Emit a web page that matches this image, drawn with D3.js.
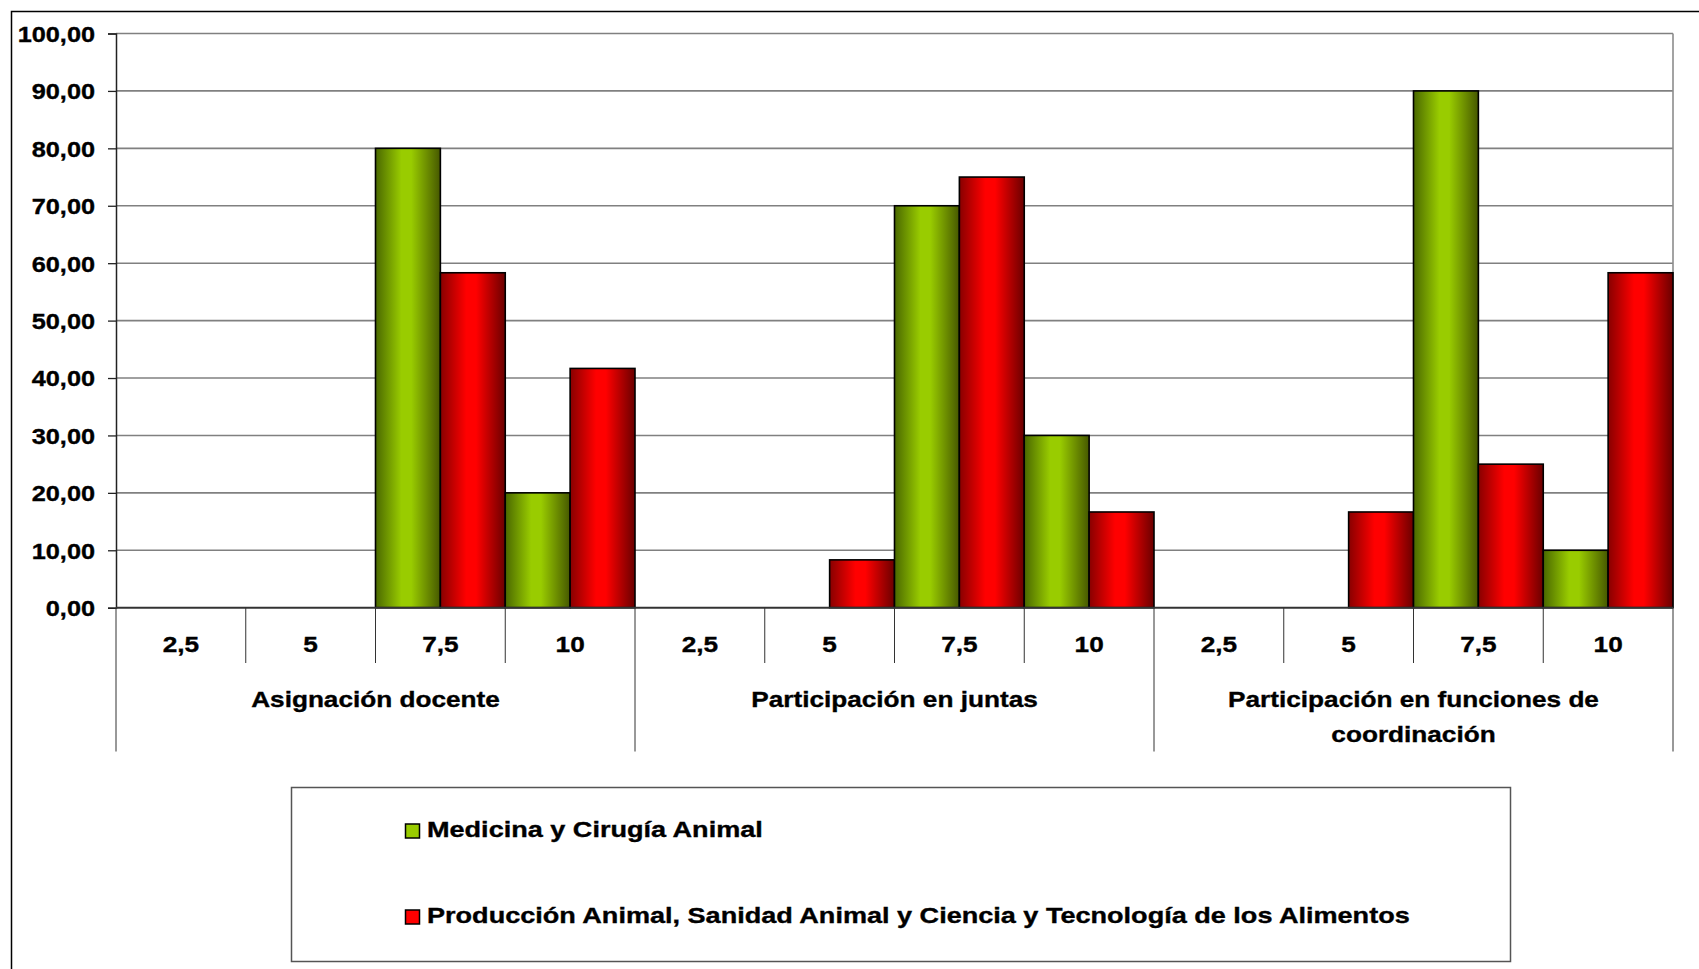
<!DOCTYPE html>
<html>
<head>
<meta charset="utf-8">
<script src="https://cdn.jsdelivr.net/npm/d3@7"></script>
<style>
  html, body { margin: 0; padding: 0; background: #fff; }
  svg { display: block; }
  text { font-family: "Liberation Sans", Arial, sans-serif; font-weight: bold; fill: #000; stroke: #000; stroke-width: 0.35px; }
</style>
</head>
<body>
<svg id="chart" width="1699" height="969"></svg>
<script>
// ---- data ----
const groups = ["Asignación docente", "Participación en juntas", "Participación en funciones de coordinación"];
const groupLabelLines = [["Asignación docente"], ["Participación en juntas"], ["Participación en funciones de", "coordinación"]];
const subcats = ["2,5", "5", "7,5", "10"];
const seriesNames = ["Medicina y Cirugía Animal", "Producción Animal, Sanidad Animal y Ciencia y Tecnología de los Alimentos"];
const medicinaValues = [0, 0, 80, 20, 0, 0, 70, 30, 0, 0, 90, 10];
const produccionValues = [0, 0, 58.33, 41.67, 0, 8.33, 75, 16.67, 0, 16.67, 25, 58.33];
const yTicks = [0, 10, 20, 30, 40, 50, 60, 70, 80, 90, 100];

const svg = d3.select("#chart");
const plotL = 116, plotR = 1673, plotT = 33.5, plotB = 607.7;
const sx = 1.19, syl = 1.15, slg = 1.23; // horizontal text stretch to match reference rendering

// outer frame
svg.append("rect").attr("x", 11.5).attr("y", 11.5).attr("width", 1720).attr("height", 1000)
  .attr("fill", "none").attr("stroke", "#000").attr("stroke-width", 1.5);

const y = d3.scaleLinear().domain([0, 100]).range([plotB, plotT]);
const x0 = d3.scaleBand().domain(groups).range([plotL, plotR]).padding(0);
const x1 = d3.scaleBand().domain(subcats).range([0, x0.bandwidth()]).padding(0);
const x2 = d3.scaleBand().domain(seriesNames).range([0, x1.bandwidth()]).padding(0);

const locale = d3.formatLocale({decimal: ",", thousands: ".", grouping: [3], currency: ["", "€"]});
const fmt = locale.format(".2f");

// gradients
const defs = svg.append("defs");
function grad(id, dark, bright, dark2) {
  const g = defs.append("linearGradient").attr("id", id).attr("x1", 0).attr("x2", 1).attr("y1", 0).attr("y2", 0);
  g.append("stop").attr("offset", "0%").attr("stop-color", dark);
  g.append("stop").attr("offset", "40%").attr("stop-color", bright);
  g.append("stop").attr("offset", "55%").attr("stop-color", bright);
  g.append("stop").attr("offset", "100%").attr("stop-color", dark2);
}
grad("gGreen", "#4a6800", "#99cc00", "#465800");
grad("gRed", "#880000", "#ff0000", "#6a0000");
const fills = ["url(#gGreen)", "url(#gRed)"];
const legendFills = ["#99cc00", "#ff0000"];

// gridlines
svg.append("g").selectAll("line").data(yTicks.filter(d => d > 0)).join("line")
  .attr("x1", plotL).attr("x2", plotR)
  .attr("y1", d => y(d)).attr("y2", d => y(d))
  .attr("stroke", "#808080").attr("stroke-width", 1.6);

// right plot border
svg.append("line").attr("x1", plotR).attr("x2", plotR).attr("y1", plotT).attr("y2", plotB)
  .attr("stroke", "#8c8c8c").attr("stroke-width", 1.6);

// y axis
const yAxis = svg.append("g").attr("transform", `translate(${plotL},0)`)
  .call(d3.axisLeft(y).tickValues(yTicks).tickSize(8).tickPadding(0).tickFormat(fmt));
yAxis.select(".domain").attr("stroke", "#222").attr("stroke-width", 1.5);
yAxis.selectAll(".tick line").attr("stroke", "#222").attr("stroke-width", 1.3);
yAxis.selectAll(".tick text").remove();
yAxis.selectAll(".tick").append("text")
  .attr("transform", `translate(-21,0) scale(${syl},1)`)
  .attr("text-anchor", "end").attr("dy", "0.36em")
  .style("font-size", "22px").style("font-family", "'Liberation Sans', Arial, sans-serif").style("font-weight", "bold")
  .attr("fill", "#000")
  .text(d => fmt(d));

// bars
const barData = [];
groups.forEach((g, gi) => {
  subcats.forEach((s, si) => {
    const idx = gi * subcats.length + si;
    [medicinaValues[idx], produccionValues[idx]].forEach((v, k) => {
      barData.push({g, s, series: seriesNames[k], k, v});
    });
  });
});
svg.append("g").selectAll("rect").data(barData.filter(d => d.v > 0)).join("rect")
  .attr("x", d => x0(d.g) + x1(d.s) + x2(d.series))
  .attr("width", x2.bandwidth())
  .attr("y", d => y(d.v))
  .attr("height", d => y(0) - y(d.v))
  .attr("fill", d => fills[d.k])
  .attr("stroke", "#000").attr("stroke-width", 1.6);

// x axis baseline
svg.append("line").attr("x1", plotL).attr("x2", plotR).attr("y1", plotB).attr("y2", plotB)
  .attr("stroke", "#333").attr("stroke-width", 2);

// sub category separators and labels
const subTickBottom = 663, groupTickBottom = 751.5;
const xg = svg.append("g");
groups.forEach(g => {
  subcats.forEach((s, si) => {
    const xs = x0(g) + x1(s);
    if (si > 0) {
      xg.append("line").attr("x1", xs).attr("x2", xs).attr("y1", plotB).attr("y2", subTickBottom)
        .attr("stroke", "#333").attr("stroke-width", 1);
    }
    xg.append("text")
      .attr("transform", `translate(${xs + x1.bandwidth() / 2},652) scale(${sx},1)`)
      .attr("text-anchor", "middle").style("font-size", "22px").text(s);
  });
});
// group separators
[...groups.map(g => x0(g)), plotR].forEach(xv => {
  xg.append("line").attr("x1", xv).attr("x2", xv).attr("y1", plotB).attr("y2", groupTickBottom)
    .attr("stroke", "#333").attr("stroke-width", 1);
});
// group labels
groups.forEach((g, gi) => {
  groupLabelLines[gi].forEach((line, li) => {
    xg.append("text")
      .attr("transform", `translate(${x0(g) + x0.bandwidth() / 2},${707 + li * 34.5}) scale(${sx},1)`)
      .attr("text-anchor", "middle").style("font-size", "22px").text(line);
  });
});

// legend
const lg = svg.append("g");
lg.append("rect").attr("x", 291.5).attr("y", 787.5).attr("width", 1219).attr("height", 174)
  .attr("fill", "#fff").attr("stroke", "#555").attr("stroke-width", 1.5);
const legendY = [831, 917];
seriesNames.forEach((name, i) => {
  lg.append("rect").attr("x", 405.5).attr("y", legendY[i] - 7).attr("width", 14).attr("height", 14)
    .attr("fill", legendFills[i]).attr("stroke", "#000").attr("stroke-width", 1.5);
  lg.append("text")
    .attr("transform", `translate(427,${legendY[i] + 6}) scale(${slg},1)`)
    .style("font-size", "22px").text(name);
});
</script>
</body>
</html>
